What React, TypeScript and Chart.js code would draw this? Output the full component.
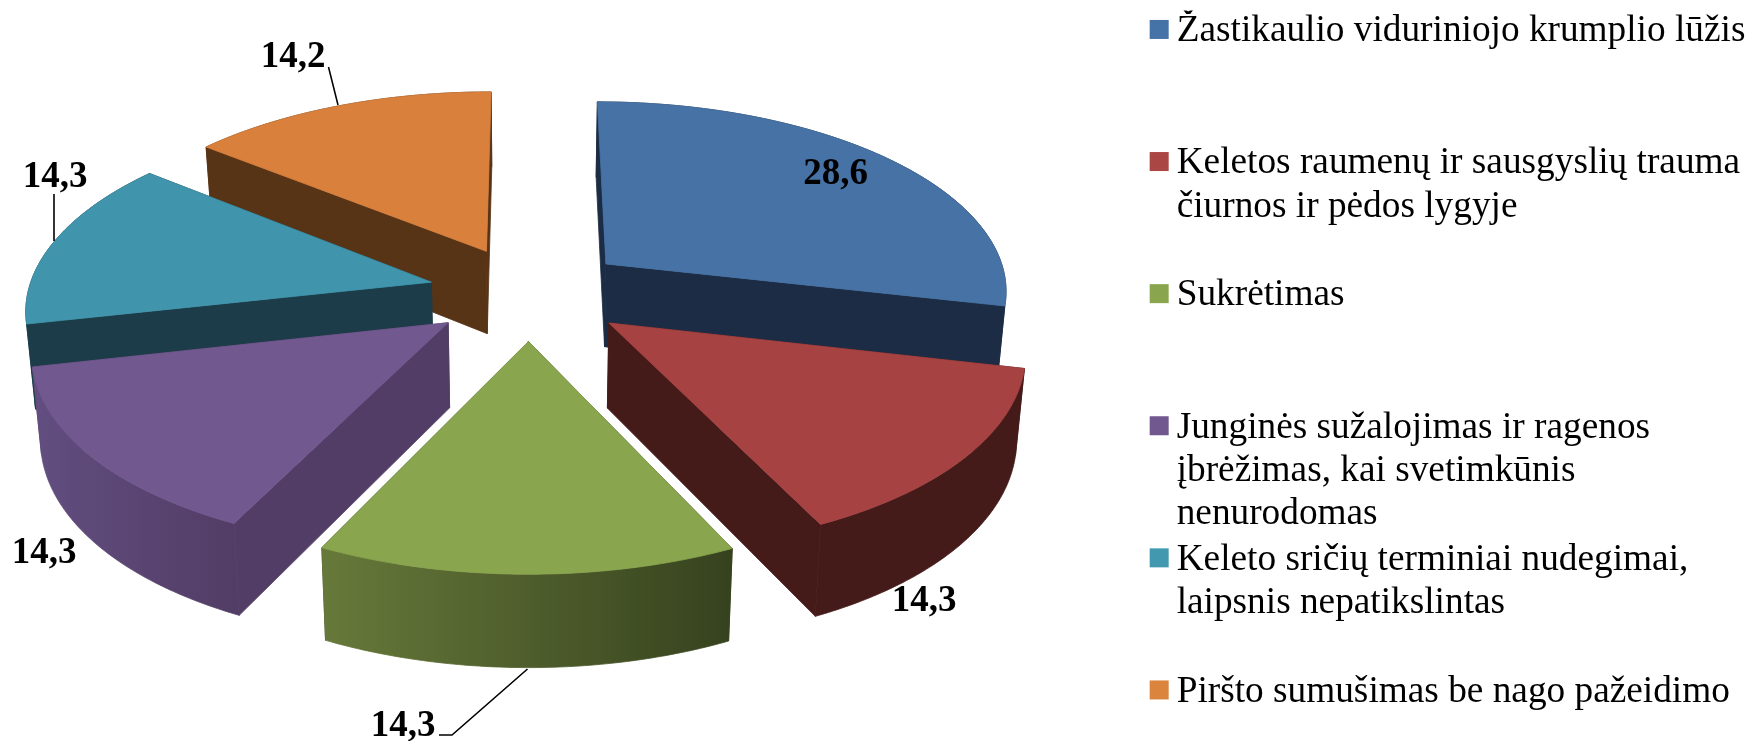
import React, { useEffect, useRef } from "react";
import { Chart, registerables } from "chart.js";

Chart.register(...registerables);

// ---- data ----
const categories = [
  "Žastikaulio viduriniojo krumplio lūžis",
  "Keletos raumenų ir sausgyslių trauma čiurnos ir pėdos lygyje",
  "Sukrėtimas",
  "Junginės sužalojimas ir ragenos įbrėžimas, kai svetimkūnis nenurodomas",
  "Keleto sričių terminiai nudegimai, laipsnis nepatikslintas",
  "Piršto sumušimas be nago pažeidimo",
];
const legendLines = [
  ["Žastikaulio viduriniojo krumplio lūžis"],
  ["Keletos raumenų ir sausgyslių trauma", "čiurnos ir pėdos lygyje"],
  ["Sukrėtimas"],
  ["Junginės sužalojimas ir ragenos", "įbrėžimas, kai svetimkūnis", "nenurodomas"],
  ["Keleto sričių terminiai nudegimai,", "laipsnis nepatikslintas"],
  ["Piršto sumušimas be nago pažeidimo"],
];
const values = [28.6, 14.3, 14.3, 14.3, 14.3, 14.2];

// ---- styles ----
const topColors = ["#4672A6", "#A64342", "#89A54E", "#71588F", "#4095AD", "#D8803C"];
const swatchColors = ["#4572A7", "#AA4643", "#89A54E", "#71588F", "#4198AF", "#DB843D"];
const radialWallColors = ["#1B2C44", "#451B19", "#36421E", "#523D66", "#1B3C48", "#583417"];
const rimWallLeft = ["#1B2C44", "#451B19", "#67793A", "#624E80", "#1B3C48", "#583417"];
const rimWallRight = ["#1B2C44", "#451B19", "#36421E", "#523D66", "#1B3C48", "#583417"];

const FONT = "'Liberation Serif'";
const LEGEND_SIZE = 37.3;
const LEGEND_LINE = 43.3;
const LEGEND_TEXT_DROP = 5;
const SWATCH = 19;

// perspective of the tilted disk, in pixels
const view = { cx: 528.7, cy: 292.8, a: 403.5, b: 189.5, p: 0.127, shrink: 0.982 };

// where each value label and its leader sit
const labelPlace = [
  { x: 835.5, y: 174 },
  { x: 924, y: 601 },
  { x: 403, y: 726 },
  { x: 44, y: 553 },
  { x: 55, y: 177 },
  { x: 293, y: 57 },
];
const leaders: number[][][] = [
  [],
  [],
  [[527.5, 669], [452, 735], [439, 735]],
  [],
  [[54, 194], [54, 241]],
  [[328.5, 67], [338, 105]],
];

function project(u: number, m: number, z: number) {
  const w = 1 - view.p * m;
  let x = view.cx + (view.a * u) / w;
  let y = view.cy + (view.b * m) / w;
  if (z > 0) {
    x = view.cx + (x - view.cx) * view.shrink;
    y += 84 + 7.5 * m;
  }
  return [x, y];
}

const tiltedPie = {
  id: "tiltedPie",
  beforeDatasetDraw(chart: any) {
    const ctx = chart.ctx as CanvasRenderingContext2D;
    const arcs = chart.getDatasetMeta(0).data.map((arc: any, i: number) => {
      const { startAngle, endAngle, outerRadius } = arc.getProps(["startAngle", "endAngle", "outerRadius"], true);
      const mid = (startAngle + endAngle) / 2;
      const e = arc.options.offset / outerRadius;
      return { i, startAngle, endAngle, ax: e * Math.cos(mid), am: e * Math.sin(mid) };
    });
    arcs.sort((p: any, q: any) => p.am - q.am);

    const fill = (pts: number[][], style: string | CanvasGradient) => {
      ctx.beginPath();
      pts.forEach((q, k) => (k ? ctx.lineTo(q[0], q[1]) : ctx.moveTo(q[0], q[1])));
      ctx.closePath();
      ctx.fillStyle = style;
      ctx.fill();
      // same-colour hairline so neighbouring faces leave no seam
      ctx.strokeStyle = style;
      ctx.lineWidth = 0.8;
      ctx.stroke();
    };

    for (const s of arcs) {
      const rimAt = (z: number) => {
        const out: number[][] = [];
        for (let k = 0; k <= 80; k++) {
          const t = s.startAngle + ((s.endAngle - s.startAngle) * k) / 80;
          out.push(project(s.ax + Math.cos(t), s.am + Math.sin(t), z));
        }
        return out;
      };
      const top = rimAt(0);
      const bottom = rimAt(1);
      const apexTop = project(s.ax, s.am, 0);
      const apexBottom = project(s.ax, s.am, 1);

      fill([apexTop, top[0], bottom[0], apexBottom], radialWallColors[s.i]);
      fill([apexTop, top[80], bottom[80], apexBottom], radialWallColors[s.i]);

      const xs = top.map((q) => q[0]);
      const grad = ctx.createLinearGradient(Math.min(...xs), 0, Math.max(...xs), 0);
      grad.addColorStop(0, rimWallLeft[s.i]);
      grad.addColorStop(1, rimWallRight[s.i]);
      fill([...top, ...bottom.slice().reverse()], grad);

      fill([apexTop, ...top], topColors[s.i]);
    }
    return false;
  },
  afterDatasetsDraw(chart: any) {
    const ctx = chart.ctx as CanvasRenderingContext2D;
    ctx.save();
    ctx.strokeStyle = "#000";
    ctx.lineWidth = 1.6;
    leaders.forEach((line) => {
      if (!line.length) return;
      ctx.beginPath();
      line.forEach((q, k) => (k ? ctx.lineTo(q[0], q[1]) : ctx.moveTo(q[0], q[1])));
      ctx.stroke();
    });
    ctx.fillStyle = "#000";
    ctx.font = `bold 37px ${FONT}`;
    ctx.textAlign = "center";
    ctx.textBaseline = "middle";
    values.forEach((v, i) => {
      ctx.fillText(v.toFixed(1).replace(".", ","), labelPlace[i].x, labelPlace[i].y);
    });
    ctx.restore();
  },
  afterDraw(chart: any) {
    const ctx = chart.ctx as CanvasRenderingContext2D;
    chart.legend.legendHitBoxes.forEach((hit: any, i: number) => {
      ctx.fillStyle = swatchColors[i];
      ctx.fillRect(hit.left, hit.top + LEGEND_LINE / 2 - LEGEND_TEXT_DROP - SWATCH / 2, SWATCH, SWATCH);
    });
  },
};

export default function App() {
  const ref = useRef<HTMLCanvasElement>(null);
  useEffect(() => {
    const chart = new Chart(ref.current as HTMLCanvasElement, {
      type: "pie",
      data: {
        labels: categories,
        datasets: [
          {
            data: values,
            backgroundColor: topColors,
            borderWidth: 0,
            offset: 81,
          },
        ],
      },
      plugins: [tiltedPie],
      options: {
        animation: false,
        responsive: false,
        layout: { padding: { top: 5.6 + LEGEND_TEXT_DROP, right: 7.6 } },
        plugins: {
          tooltip: { enabled: false },
          legend: {
            position: "right",
            align: "start",
            labels: {
              color: "#000",
              boxWidth: 27 - LEGEND_SIZE / 2,
              boxHeight: 10,
              padding: 2.2,
              font: { family: FONT, size: LEGEND_SIZE, lineHeight: LEGEND_LINE / LEGEND_SIZE },
              generateLabels: () =>
                legendLines.map((lines, i) => ({
                  // rows share one pitch: short rows are padded to three lines, the last needs no padding
                  text:
                    i === legendLines.length - 1
                      ? lines
                      : [lines[0], lines[1] ?? " ", lines[2] ?? " "],
                  fillStyle: "transparent",
                  strokeStyle: "transparent",
                  lineWidth: 0,
                  hidden: false,
                  index: i,
                })),
            },
          },
        },
      },
    } as any);
    return () => chart.destroy();
  }, []);
  return (
    <div style={{ position: "absolute", left: 0, top: 0, width: 1763, height: 741, background: "#fff" }}>
      <canvas ref={ref} width={1763} height={741} style={{ display: "block" }} />
    </div>
  );
}
